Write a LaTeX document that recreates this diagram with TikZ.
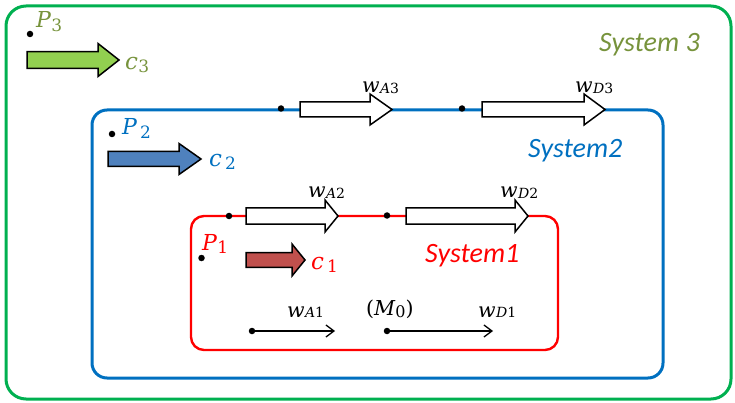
\documentclass[tikz,border=0pt]{standalone}
\usepackage{fontspec}
\newfontfamily\calib{Carlito}
\newfontfamily\dser{DejaVu Serif}
\usetikzlibrary{arrows.meta}
\definecolor{gbox}{RGB}{0,176,80}
\definecolor{bbox}{RGB}{0,112,192}
\definecolor{rbox}{RGB}{255,0,0}
\definecolor{olive3}{RGB}{119,147,60}
\definecolor{fill3}{RGB}{146,208,80}
\definecolor{fill2}{RGB}{79,129,189}
\definecolor{fill1}{RGB}{192,80,77}
\newcommand\blockarrow[7]{%
  \draw[line width=1.5pt,fill=#1,line join=miter] (#2,{#4-#5}) -- (#7,{#4-#5}) -- (#7,{#4-#6}) -- (#3,#4) -- (#7,{#4+#6}) -- (#7,{#4+#5}) -- (#2,{#4+#5}) -- cycle;}
% subscripted label: [#1 sub size] #2 main italic letter, #3 italic sub part, #4 upright sub part, #5 lowering
\newcommand\sublab[5][14]{{\itshape #2}\kern0.3pt\raisebox{-#5}{\fontsize{#1}{#1}\selectfont\itshape #3\upshape #4}}
\begin{document}
\begin{tikzpicture}[x=1pt,y=-1pt,
  lbl/.style={anchor=base west,inner sep=0pt,font=\dser\fontsize{20.5}{24}\selectfont},
  plbl/.style={anchor=base west,inner sep=0pt,font=\dser\fontsize{22}{24}\selectfont},
  clbl/.style={anchor=base west,inner sep=0pt,font=\dser\fontsize{23}{26}\selectfont},
  sys/.style={anchor=base west,inner sep=0pt,font=\calib\itshape\fontsize{28}{30}\selectfont},
  pt/.style={circle,fill=black,inner sep=0pt,minimum size=6.5pt},
  thin arrow/.style={line width=1.4pt,-{Straight Barb[length=8pt,width=12pt,line width=1.3pt]}}]
\useasboundingbox (0,0) rectangle (735,403);
% boxes
\draw[gbox,line width=3pt,rounded corners=20pt] (6,6) rectangle (731,399);
\draw[bbox,line width=3pt,rounded corners=15pt] (92,110) rectangle (663,378);
\draw[rbox,line width=2.4pt,rounded corners=13pt] (191,216) rectangle (558,350);
% block arrows on lines
\blockarrow{white}{300}{392}{109.5}{7.5}{15.5}{370}
\blockarrow{white}{482}{605}{109.5}{7.5}{15.5}{584}
\blockarrow{white}{246}{338}{216}{8}{16}{325}
\blockarrow{white}{406}{528}{216}{8}{16}{515}
% c arrows
\blockarrow{fill1}{246}{305}{260}{7.3}{16}{292}
\blockarrow{fill2}{108}{201}{159}{7.5}{15.5}{179}
\blockarrow{fill3}{27}{119}{60}{8.3}{16.5}{98}
% dots
\node[pt] (b1) at (281,108.5) {};
\node[pt] (b2) at (462,108.5) {};
\node[pt] (r1) at (229,216) {};
\node[pt] (r2) at (387,215.5) {};
\node[pt] (d1) at (252,331) {};
\node[pt] (d2) at (387,331) {};
\node[pt] (p1) at (201.5,258) {};
\node[pt] (p2) at (112,134) {};
\node[pt] (p3) at (30,34) {};
\coordinate (e1) at (335,331);
\coordinate (e2) at (493,331);
\draw[thin arrow] (d1.center) -- (e1);
\draw[thin arrow] (d2.center) -- (e2);
% labels
\node[lbl] (wa3) at (362,93) {\sublab{w}{A}{3}{0.5pt}};
\node[lbl] (wd3) at (575,93) {\sublab{w}{D}{3}{0.5pt}};
\node[lbl] (wa2) at (308,198) {\sublab{w}{A}{2}{0.5pt}};
\node[lbl] (wd2) at (500,198) {\sublab{w}{D}{2}{0.5pt}};
\node[lbl] (wa1) at (287,317) {\sublab{w}{A}{1}{0.5pt}};
\node[lbl] (wd1) at (478,317) {\sublab{w}{D}{1}{0.5pt}};
\node[lbl] (m0) at (366,315) {(\sublab[16]{M}{}{0}{2pt})};
\node[plbl,text=rbox] (P1) at (202,250) {\sublab[17]{P}{}{1}{3.5pt}};
\node[plbl,text=bbox] (P2) at (122,135) {\sublab[17]{P}{}{\,2}{3.5pt}};
\node[plbl,text=olive3] (P3) at (36,28) {\sublab[17]{P}{}{3}{4pt}};
\node[clbl,text=rbox] (c1) at (311,269) {\sublab[17]{c}{}{\,1}{3pt}};
\node[clbl,text=bbox] (c2) at (209,167) {\sublab[17]{c}{}{\,2}{3pt}};
\node[clbl,text=olive3] (c3) at (125,70) {\sublab[17]{c}{}{3}{3pt}};
\node[sys,text=rbox] (s1) at (425,262) {System1};
\node[sys,text=bbox] (s2) at (528,158) {System2};
\node[sys,text=olive3] (s3) at (599,52) {System 3};
\end{tikzpicture}
\end{document}
